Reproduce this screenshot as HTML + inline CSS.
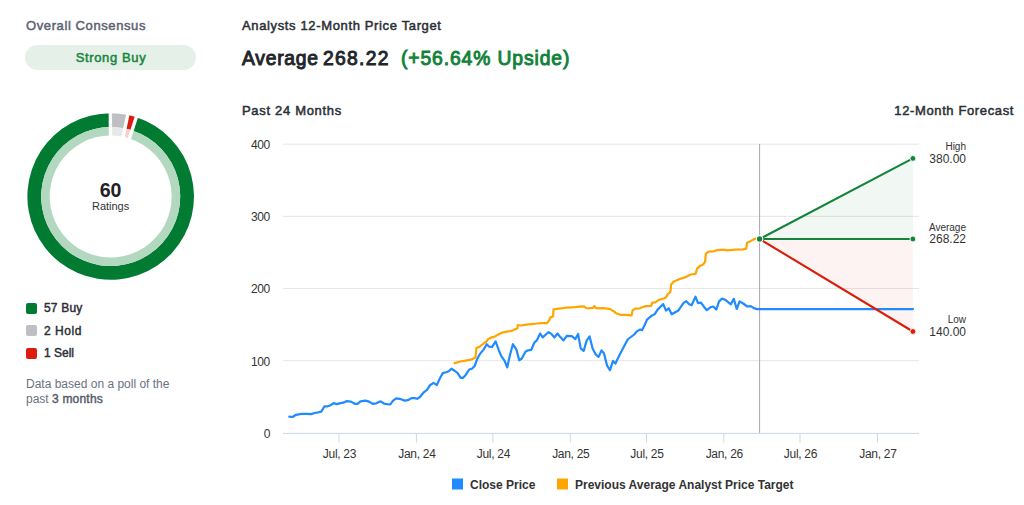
<!DOCTYPE html>
<html><head><meta charset="utf-8">
<style>
html,body{margin:0;padding:0;background:#fff;}
body{width:1024px;height:505px;overflow:hidden;position:relative;font-family:"Liberation Sans",sans-serif;}
.t{position:absolute;white-space:nowrap;line-height:1;}
svg text{font-family:"Liberation Sans",sans-serif;}
.ax{font-size:12px;fill:#333;letter-spacing:-0.3px;}
.lg{font-size:12px;font-weight:bold;fill:#333;}
.sq{position:absolute;width:11.2px;height:11.2px;border-radius:2px;}
</style></head>
<body>
<div class="t sb" style="left:26px;top:19px;font-size:13px;color:#5d6373;letter-spacing:0.6px;-webkit-text-stroke:0.5px #5d6373;">Overall Consensus</div>
<div style="position:absolute;left:25.3px;top:45.1px;width:170.6px;height:24.7px;border-radius:12.4px;background:#e4f0e8;"></div>
<div class="t" style="left:26px;width:170px;text-align:center;top:51px;font-size:13px;color:#17853b;letter-spacing:0.63px;-webkit-text-stroke:0.5px #17853b;">Strong Buy</div>

<div class="t" style="left:242px;top:19px;font-size:13px;color:#2b2f36;letter-spacing:0.64px;-webkit-text-stroke:0.5px #2b2f36;">Analysts 12-Month Price Target</div>
<div class="t" style="left:242px;top:48.9px;font-size:19.3px;color:#22252a;letter-spacing:0.75px;-webkit-text-stroke:0.95px #22252a;">Average</div>
<div class="t" style="left:323px;top:48.9px;font-size:19.3px;color:#22252a;letter-spacing:1.3px;-webkit-text-stroke:0.95px #22252a;">268.22</div>
<div class="t" style="left:401px;top:48.9px;font-size:19.3px;color:#12823a;letter-spacing:0.9px;-webkit-text-stroke:0.95px #12823a;">(+56.64% Upside)</div>
<div class="t" style="left:242px;top:104px;font-size:13px;color:#2b2f36;letter-spacing:0.68px;-webkit-text-stroke:0.5px #2b2f36;">Past 24 Months</div>
<div class="t" style="right:10px;top:104px;font-size:13px;color:#2b2f36;letter-spacing:0.62px;-webkit-text-stroke:0.5px #2b2f36;">12-Month Forecast</div>

<div class="sq" style="left:25.5px;top:302.5px;background:#027b32;"></div>
<div class="t" style="left:44px;top:302px;font-size:12px;color:#2b2f36;letter-spacing:0.2px;-webkit-text-stroke:0.45px #2b2f36;">57 Buy</div>
<div class="sq" style="left:25.5px;top:325.2px;background:#bdbfc3;"></div>
<div class="t" style="left:44px;top:325px;font-size:12px;color:#2b2f36;letter-spacing:0.55px;-webkit-text-stroke:0.45px #2b2f36;">2 Hold</div>
<div class="sq" style="left:25.5px;top:347.9px;background:#dd1c0e;"></div>
<div class="t" style="left:44px;top:347px;font-size:12px;color:#2b2f36;letter-spacing:0px;-webkit-text-stroke:0.45px #2b2f36;">1 Sell</div>
<div class="t" style="left:26px;top:377px;font-size:12px;line-height:15px;color:#6b7280;">Data based on a poll of the<br>past <span style="color:#575d6b;letter-spacing:0.2px;-webkit-text-stroke:0.45px #575d6b;">3 months</span></div>

<svg width="1024" height="505" style="position:absolute;left:0;top:0;">
<path d="M110.70,113.20 A83.3,83.3 0 0 1 128.02,115.02 L125.15,128.52 A69.5,69.5 0 0 0 110.70,127.00 Z" fill="#bdbfc3"/>
<path d="M110.70,127.00 A69.5,69.5 0 0 1 125.15,128.52 L123.38,136.83 A61.0,61.0 0 0 0 110.70,135.50 Z" fill="#e7e8ea"/>
<path d="M128.02,115.02 A83.3,83.3 0 0 1 136.44,117.28 L132.18,130.40 A69.5,69.5 0 0 0 125.15,128.52 Z" fill="#dd1c0e"/>
<path d="M125.15,128.52 A69.5,69.5 0 0 1 132.18,130.40 L129.55,138.49 A61.0,61.0 0 0 0 123.38,136.83 Z" fill="#f7cfcc"/>
<path d="M136.44,117.28 A83.3,83.3 0 1 1 110.70,113.20 L110.70,127.00 A69.5,69.5 0 1 0 132.18,130.40 Z" fill="#027b32"/>
<path d="M132.18,130.40 A69.5,69.5 0 1 1 110.70,127.00 L110.70,135.50 A61.0,61.0 0 1 0 129.55,138.49 Z" fill="#b2d8bf"/>
<line x1="110.45" y1="137.50" x2="110.34" y2="111.20" stroke="#fff" stroke-width="3.4"/>
<line x1="122.77" y1="138.75" x2="128.14" y2="113.00" stroke="#fff" stroke-width="3.4"/>
<line x1="128.83" y1="140.36" x2="136.92" y2="115.33" stroke="#fff" stroke-width="3.4"/>
<text x="110.6" y="196.6" text-anchor="middle" style="font-size:19.6px;font-weight:bold;fill:#1f2227;">60</text>
<text x="110.6" y="209.9" text-anchor="middle" style="font-size:11px;fill:#333;">Ratings</text>

<line x1="283.0" y1="360.65" x2="919.0" y2="360.65" stroke="#e6e6e6" stroke-width="1"/><line x1="283.0" y1="288.50" x2="919.0" y2="288.50" stroke="#e6e6e6" stroke-width="1"/><line x1="283.0" y1="216.35" x2="919.0" y2="216.35" stroke="#e6e6e6" stroke-width="1"/><line x1="283.0" y1="144.20" x2="919.0" y2="144.20" stroke="#e6e6e6" stroke-width="1"/>
<polygon points="759.6,239.0 912.9,158.4 912.9,239.0" fill="#0a7d32" fill-opacity="0.06"/>
<polygon points="759.6,239.0 912.9,239.0 912.9,331.5" fill="#dd1c0e" fill-opacity="0.055"/>
<line x1="759.6" y1="144" x2="759.6" y2="433" stroke="#a8a8a8" stroke-width="1"/>
<line x1="283.0" y1="433.4" x2="919.0" y2="433.4" stroke="#ccd6eb" stroke-width="1"/>
<line x1="339.0" y1="433" x2="339.0" y2="442.6" stroke="#ccd6eb" stroke-width="1"/><text x="339.5" y="458" text-anchor="middle" class="ax">Jul, 23</text><line x1="416.4" y1="433" x2="416.4" y2="442.6" stroke="#ccd6eb" stroke-width="1"/><text x="416.9" y="458" text-anchor="middle" class="ax">Jan, 24</text><line x1="492.9" y1="433" x2="492.9" y2="442.6" stroke="#ccd6eb" stroke-width="1"/><text x="493.4" y="458" text-anchor="middle" class="ax">Jul, 24</text><line x1="570.3" y1="433" x2="570.3" y2="442.6" stroke="#ccd6eb" stroke-width="1"/><text x="570.8" y="458" text-anchor="middle" class="ax">Jan, 25</text><line x1="646.5" y1="433" x2="646.5" y2="442.6" stroke="#ccd6eb" stroke-width="1"/><text x="647.0" y="458" text-anchor="middle" class="ax">Jul, 25</text><line x1="723.8" y1="433" x2="723.8" y2="442.6" stroke="#ccd6eb" stroke-width="1"/><text x="724.3" y="458" text-anchor="middle" class="ax">Jan, 26</text><line x1="800.0" y1="433" x2="800.0" y2="442.6" stroke="#ccd6eb" stroke-width="1"/><text x="800.5" y="458" text-anchor="middle" class="ax">Jul, 26</text><line x1="877.4" y1="433" x2="877.4" y2="442.6" stroke="#ccd6eb" stroke-width="1"/><text x="877.9" y="458" text-anchor="middle" class="ax">Jan, 27</text>
<text x="270" y="437.7" text-anchor="end" class="ax">0</text><text x="270" y="366.0" text-anchor="end" class="ax">100</text><text x="270" y="293.2" text-anchor="end" class="ax">200</text><text x="270" y="221.3" text-anchor="end" class="ax">300</text><text x="270" y="148.9" text-anchor="end" class="ax">400</text>
<polyline points="289.3,416.6 292.5,417.0 296.0,414.8 301.4,413.8 306.7,413.8 311.2,414.1 314.7,413.0 318.3,412.3 321.3,411.6 324.5,406.3 327.8,406.3 330.8,405.2 333.5,403.1 336.7,404.1 340.6,403.1 343.3,402.7 346.8,401.1 350.9,401.6 354.8,403.8 357.5,403.8 360.5,401.3 365.5,400.6 369.1,401.6 372.7,403.8 376.2,403.3 380.7,401.3 384.2,403.6 389.0,404.5 390.5,404.1 393.1,400.6 396.2,398.3 399.7,398.8 404.7,400.6 407.9,400.2 411.5,398.1 414.5,398.1 417.2,398.8 419.9,397.0 423.4,392.7 427.0,389.9 430.0,385.2 433.6,382.9 436.8,385.1 439.8,378.5 442.8,373.1 446.0,372.2 448.7,371.3 451.4,368.7 455.0,371.0 457.6,373.1 460.7,377.9 463.0,377.8 465.7,374.9 469.2,369.5 471.9,368.7 474.6,366.0 477.3,358.8 479.6,354.4 483.5,349.6 486.7,344.2 489.2,346.7 492.1,346.9 495.6,341.4 498.7,349.9 501.3,356.2 504.5,360.6 507.2,367.4 509.9,355.3 512.9,344.2 516.5,349.9 519.2,360.3 521.8,358.5 525.4,351.7 528.1,350.3 531.3,349.9 534.3,342.8 537.0,340.1 540.2,333.5 542.7,337.4 545.6,334.8 548.6,332.1 551.3,333.9 554.4,337.5 557.5,333.5 560.3,337.1 563.5,340.4 566.8,335.9 571.8,336.1 575.4,339.1 578.1,333.9 580.7,348.4 583.7,350.9 586.7,340.4 589.6,336.5 592.6,348.4 595.6,354.3 598.6,356.9 601.5,350.4 603.9,353.3 607.1,365.6 610.0,370.2 613.0,360.9 615.4,363.6 619.4,355.3 622.9,348.4 627.7,339.5 631.6,336.5 634.2,334.5 637.2,331.1 640.2,329.5 642.2,330.1 645.1,324.0 647.0,319.6 651.7,315.7 654.7,314.1 657.6,309.6 660.5,306.7 663.2,304.1 666.0,310.6 668.7,308.2 671.7,314.3 675.2,312.2 678.1,310.8 681.0,306.7 683.4,303.2 686.3,301.2 689.2,304.3 691.6,305.2 695.5,296.7 698.0,303.2 701.0,302.6 703.9,306.7 706.8,310.2 710.3,307.3 713.3,306.5 716.2,309.6 719.1,301.4 722.1,298.5 725.0,299.7 730.9,304.3 733.8,298.8 736.7,309.0 739.6,301.4 743.2,303.5 747.3,306.5 750.8,306.1 754.3,308.4 757.2,309.1 913.0,309.1" fill="none" stroke="#1f8bff" stroke-width="2.2" stroke-linejoin="round" stroke-linecap="round"/>
<polyline points="454.6,363.1 460.3,361.5 465.7,360.6 471.0,359.7 475.5,357.4 476.4,348.1 479.9,346.4 483.5,343.7 486.7,341.4 488.0,339.2 491.5,337.4 494.2,336.9 497.8,334.8 502.2,332.5 506.7,331.7 512.0,330.9 514.7,329.4 517.4,328.5 517.7,325.0 520.9,325.5 526.3,324.6 531.6,324.1 537.0,323.5 542.3,323.2 546.8,323.2 549.1,320.5 550.4,317.4 553.1,316.5 553.5,309.5 557.0,308.9 563.2,308.2 565.4,307.7 572.8,307.3 575.5,307.1 581.6,306.4 584.7,306.7 586.0,308.0 588.7,308.4 593.5,307.7 594.4,306.0 595.3,307.7 597.9,308.4 602.7,308.2 607.1,308.6 610.6,309.2 612.4,310.8 614.1,311.3 615.5,313.0 620.3,314.8 626.5,314.8 631.7,315.4 632.6,310.4 635.2,308.6 640.0,308.3 642.3,307.3 645.9,306.1 651.1,305.9 652.3,302.6 655.2,302.4 659.3,299.7 663.4,298.5 665.8,297.7 667.5,294.4 669.3,293.0 670.5,291.4 671.1,284.5 673.9,281.4 679.8,279.0 684.8,277.4 690.7,274.5 695.6,273.9 697.2,268.5 699.6,266.1 703.2,264.6 705.1,261.6 705.9,253.7 708.5,251.7 713.5,251.3 717.4,250.1 723.4,249.7 727.3,250.3 735.2,249.7 743.2,249.3 746.1,248.7 747.1,242.8 750.1,241.4 753.1,239.8 756.0,238.4 759.6,239.0" fill="none" stroke="#ffa500" stroke-width="2.2" stroke-linejoin="round" stroke-linecap="round"/>
<line x1="759.6" y1="239.0" x2="912.9" y2="158.4" stroke="#14843a" stroke-width="2.1"/>
<line x1="759.6" y1="239.0" x2="912.9" y2="239.0" stroke="#14843a" stroke-width="2.1"/>
<line x1="759.6" y1="239.0" x2="912.9" y2="331.5" stroke="#dc1c08" stroke-width="2.1"/>
<circle cx="759.6" cy="239.0" r="3.2" fill="#14843a" stroke="#fff" stroke-width="1.1"/>
<circle cx="912.9" cy="158.4" r="2.9" fill="#14843a" stroke="#fff" stroke-width="0.9"/>
<circle cx="912.9" cy="239.0" r="2.9" fill="#14843a" stroke="#fff" stroke-width="0.9"/>
<circle cx="912.9" cy="331.5" r="2.9" fill="#dc1c08" stroke="#fff" stroke-width="0.9"/>
<text x="966" y="150.1" text-anchor="end" style="font-size:10px;fill:#333;">High</text>
<text x="966" y="162.9" text-anchor="end" style="font-size:12px;fill:#333;">380.00</text>
<text x="966" y="230.6" text-anchor="end" style="font-size:10px;fill:#333;">Average</text>
<text x="966" y="242.8" text-anchor="end" style="font-size:12px;fill:#333;">268.22</text>
<text x="966" y="323.2" text-anchor="end" style="font-size:10px;fill:#333;">Low</text>
<text x="966" y="336" text-anchor="end" style="font-size:12px;fill:#333;">140.00</text>

<rect x="452" y="478.5" width="11" height="11" fill="#1f8bff"/>
<text x="470" y="488.5" class="lg">Close Price</text>
<rect x="557" y="478.5" width="11" height="11" fill="#ffa500"/>
<text x="575" y="488.5" class="lg">Previous Average Analyst Price Target</text>
</svg>
</body></html>
